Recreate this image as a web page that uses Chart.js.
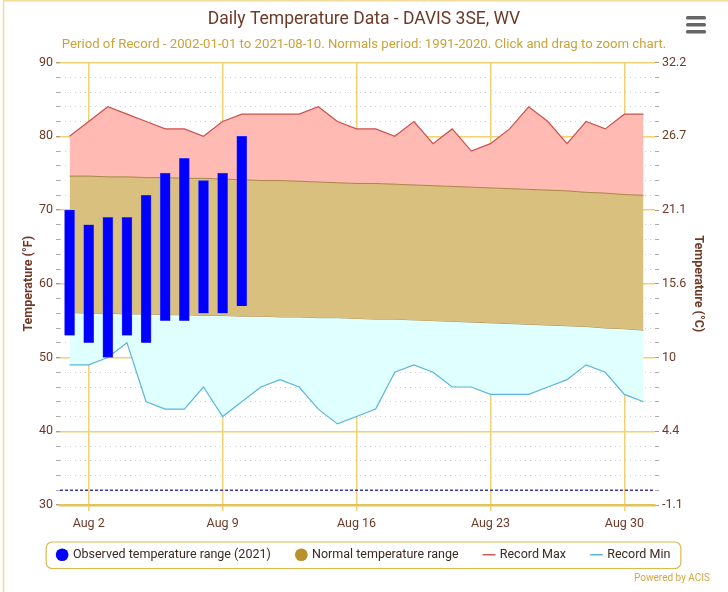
<!DOCTYPE html>
<html><head><meta charset="utf-8">
<script src="https://cdn.jsdelivr.net/npm/chart.js@4.4.1/dist/chart.umd.min.js"></script>
<style>html,body{margin:0;padding:0;background:#fff}#wrap{width:728px;height:592px;position:relative}</style>
</head><body><div id="wrap"><canvas id="c" width="728" height="592"></canvas></div>
<script>
// ---- data ----
const days = [1,2,3,4,5,6,7,8,9,10,11,12,13,14,15,16,17,18,19,20,21,22,23,24,25,26,27,28,29,30,31];
const xTickDays = [2,9,16,23,30];
const xTickLabels = ['Aug 2','Aug 9','Aug 16','Aug 23','Aug 30'];
const obsDays = [1,2,3,4,5,6,7,8,9,10];
const obsLow  = [53,52,50,53,52,55,55,56,56,57];
const obsHigh = [70,68,69,69,72,75,77,74,75,80];
const recordMax = [80,82,84,83,82,81,81,80,82,83,83,83,83,84,82,81,81,80,82,79,81,78,79,81,84,82,79,82,81,83,83];
const recordMin = [49,49,50,52,44,43,43,46,42,44,46,47,46,43,41,42,43,48,49,48,46,46,45,45,45,46,47,49,48,45,44];
const normalMax = [74.6,74.6,74.5,74.5,74.4,74.4,74.3,74.3,74.2,74.1,74.0,74.0,73.9,73.8,73.7,73.6,73.6,73.5,73.4,73.3,73.2,73.1,73.0,72.9,72.8,72.7,72.6,72.4,72.3,72.1,72.0];
const normalMin = [56.1,56.0,56.0,55.9,55.9,55.8,55.8,55.7,55.7,55.6,55.6,55.5,55.5,55.4,55.4,55.3,55.2,55.2,55.1,55.0,54.9,54.8,54.7,54.6,54.5,54.4,54.3,54.2,54.0,53.9,53.7];
const yMajorF = [30,40,50,60,70,80,90];
const yTicksF = [30,32,34,36,38,40,42,44,46,48,50,52,54,56,58,60,62,64,66,68,70,72,74,76,78,80,82,84,86,88,90];
const freezingF = 32;

// ---- layout/style ----
const xMin = 0.5, xMax = 31.6;
const FONT = "Roboto, 'Noto Sans', sans-serif";
Chart.defaults.font.family = FONT;
const BROWN = '#6e3a28';
const GOLD = '#f0d272';
const isMajor = c => yMajorF.includes(c.tick && c.tick.value);
const toC = f => parseFloat(((f - 32) * 5 / 9).toFixed(1));

const legendDefs = [
  {text:'Observed temperature range (2021)', fillStyle:'#0000ff', strokeStyle:'#0000ff', pointStyle:'circle', lineWidth:0, datasetIndex:0},
  {text:'Normal temperature range', fillStyle:'#b8902c', strokeStyle:'#b8902c', pointStyle:'circle', lineWidth:0, datasetIndex:1},
  {text:'Record Max', fillStyle:'#d05a55', strokeStyle:'#d05a55', pointStyle:'line', lineWidth:1.5, datasetIndex:2},
  {text:'Record Min', fillStyle:'#5bb5dc', strokeStyle:'#5bb5dc', pointStyle:'line', lineWidth:1.5, datasetIndex:3}
];

const decor = {
  id:'decor',
  beforeDraw(chart){
    const c = chart.ctx; c.save(); c.fillStyle='#fff'; c.fillRect(0,0,chart.width,chart.height); c.restore();
  },
  afterLayout(chart){
    // pull the legend row up close to the axis labels
    const L = chart.legend; const d = 12.5;
    L.top -= d; L.bottom -= d;
  },
  afterDraw(chart){
    const c = chart.ctx;
    c.save();
    c.strokeStyle = '#f0dc9c'; c.lineWidth = 1.5;
    c.beginPath(); c.moveTo(3.5, chart.height); c.lineTo(3.5, 0.8); c.lineTo(chart.width, 0.8); c.stroke();
    const hb = chart.legend.legendHitBoxes;
    if (hb && hb.length){
      const l = Math.min(...hb.map(h=>h.left)) - 12;
      const r = Math.max(...hb.map(h=>h.left+h.width)) + 10;
      const t = hb[0].top - 7;
      const b = hb[0].top + hb[0].height + 7;
      c.strokeStyle = '#dcb94e'; c.lineWidth = 1.2;
      c.beginPath(); c.roundRect(l+0.5, t+0.5, r-l, b-t, 6); c.stroke();
    }
    c.fillStyle = '#666';
    [16,23,30].forEach(y => { c.beginPath(); c.roundRect(686, y, 20, 3.5, 1.5); c.fill(); });
    c.fillStyle = '#d4a845'; c.font = "10px " + FONT; c.textAlign = 'right'; c.textBaseline = 'middle';
    c.fillText('Powered by ACIS', 710, 578);
    c.restore();
  }
};

const pt = arr => days.map((d,i)=>({x:d, y:arr[i]}));

new Chart(document.getElementById('c'), {
  type:'bar',
  data:{ datasets:[
    {type:'bar', label:'Observed temperature range (2021)', data: obsDays.map((d,i)=>({x:d, y:[obsLow[i], obsHigh[i]]})),
      backgroundColor:'#0000ff', borderColor:'#4d4dff', borderWidth:0.6, barThickness:10, order:0, yAxisID:'y'},
    {type:'line', label:'Normal temperature range', data: pt(normalMax), borderColor:'rgba(150,110,40,0.75)', borderWidth:1,
      backgroundColor:'#d9c07f', fill:{target:4}, pointRadius:0, tension:0, order:3, yAxisID:'y'},
    {type:'line', label:'Record Max', data: pt(recordMax), borderColor:'#cf4f4a', borderWidth:1.2,
      backgroundColor:'#ffbab4', fill:{target:1}, pointRadius:0, tension:0, order:4, yAxisID:'y'},
    {type:'line', label:'Record Min', data: pt(recordMin), borderColor:'#5bb5dc', borderWidth:1.2,
      backgroundColor:'#e0ffff', fill:{target:4}, pointRadius:0, tension:0, order:4, yAxisID:'y'},
    {type:'line', label:'Normal Min', data: pt(normalMin), borderColor:'rgba(150,110,40,0.75)', borderWidth:1,
      fill:false, pointRadius:0, tension:0, order:3, yAxisID:'y'},
    {type:'line', label:'Freezing', data:[{x:xMin,y:freezingF},{x:xMax,y:freezingF}], borderColor:'#3a3aa6', borderWidth:1.3,
      borderDash:[3,2], fill:false, pointRadius:0, order:1, yAxisID:'y'}
  ]},
  options:{
    responsive:false, animation:false, devicePixelRatio:1,
    layout:{padding:{left:0,right:0,top:0,bottom:8.5}},
    plugins:{
      title:{display:true, text:'Daily Temperature Data - DAVIS 3SE, WV', color:BROWN, font:{size:17.5, weight:'normal'}, padding:{top:9,bottom:3}},
      subtitle:{display:true, text:'Period of Record - 2002-01-01 to 2021-08-10. Normals period: 1991-2020. Click and drag to zoom chart.', color:'#c9a33a', font:{size:13.2}, padding:{top:3.5,bottom:10.2}},
      legend:{position:'bottom', labels:{usePointStyle:true, boxWidth:9, boxHeight:9, padding:26, color:'#3a2a22', font:{size:12.5},
        generateLabels: () => legendDefs.map(d => Object.assign({hidden:false, fontColor:'#3a2a22'}, d))}},
      tooltip:{enabled:false}
    },
    scales:{
      x:{type:'linear', min:xMin, max:xMax, offset:false,
        afterBuildTicks: s => { s.ticks = xTickDays.map(v=>({value:v})); },
        afterFit: s => { s.height = 30; },
        ticks:{callback: v => { const i = xTickDays.indexOf(v); return i >= 0 ? xTickLabels[i] : ''; }, color:BROWN, font:{size:12.5}, padding:5, maxRotation:0, autoSkip:false},
        grid:{offset:false, color:GOLD, lineWidth:1.5, tickLength:6, tickColor:GOLD},
        border:{display:true, color:'#e2c35c', width:2.5}
      },
      y:{position:'left', min:30, max:90,
        afterBuildTicks: s => { s.ticks = yTicksF.map(v=>({value:v})); },
        afterFit: s => { s.width = 60; },
        ticks:{callback: v => yMajorF.includes(v) ? String(v) : '', color:BROWN, font:{size:12.5}, padding:3, autoSkip:false},
        grid:{
          color: c => isMajor(c) ? GOLD : '#d0d0d0',
          lineWidth: c => isMajor(c) ? 1.4 : 1,
          tickColor: c => isMajor(c) ? '#b09a80' : '#aaa',
          tickLength:4
        },
        border:{display:false, dash: c => isMajor(c) ? [] : [1,4]},
        title:{display:true, text:'Temperature (°F)', color:BROWN, font:{size:12.5, weight:'bold'}, padding:{top:21, bottom:0}}
      },
      y2:{position:'right', min:30, max:90,
        afterBuildTicks: s => { s.ticks = yTicksF.map(v=>({value:v})); },
        afterFit: s => { s.width = 73; },
        ticks:{callback: v => yMajorF.includes(v) ? String(toC(v)) : '', color:BROWN, font:{size:12.5}, padding:3, autoSkip:false},
        grid:{drawOnChartArea:false, tickLength:4,
          tickColor: c => isMajor(c) ? '#b09a80' : '#aaa'},
        border:{display:false},
        title:{display:true, text:'Temperature (°C)', color:BROWN, font:{size:12.5, weight:'bold'}, padding:{top:22, bottom:0}}
      }
    }
  },
  plugins:[decor]
});
</script></body></html>
